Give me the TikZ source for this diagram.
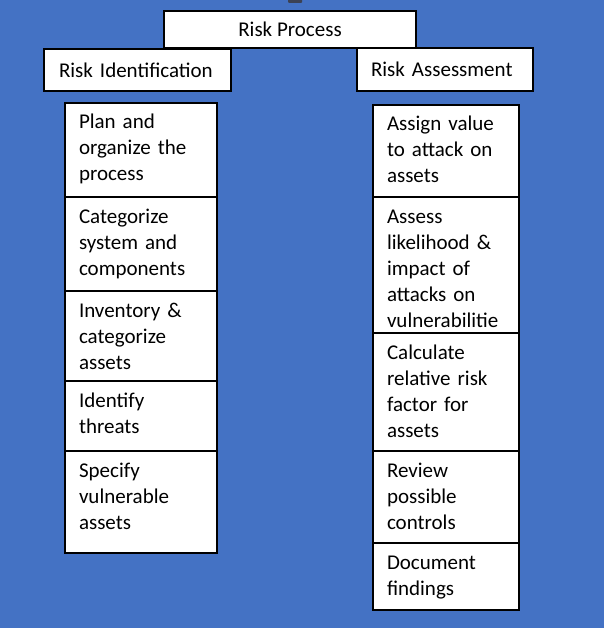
\documentclass[tikz,border=0pt]{standalone}
\usepackage{fontspec}
\setmainfont{Carlito}
\usetikzlibrary{positioning}

\definecolor{slideBlue}{RGB}{68,114,196}
\definecolor{smudgeGray}{RGB}{60,66,84}

\tikzset{
  boxline/.style={draw, line width=1.8pt, fill=white, outer sep=0pt},
  headbox/.style={boxline, anchor=north west, inner ysep=0pt,
    font=\fontsize{21}{26}\selectfont},
  stepbox/.style={boxline, inner xsep=14pt, inner ysep=0pt, align=left,
    text height=26pt, text depth=#1, font=\fontsize{21}{26}\selectfont},
  leftcol/.style={text width=124pt},
  rightcol/.style={text width=118pt}
}

\begin{document}
\begin{tikzpicture}[x=1pt, y=-1pt]
  \useasboundingbox (0,0) rectangle (604,628);
  \fill[slideBlue] (0,0) rectangle (604,628);
  \fill[smudgeGray, rounded corners=1pt] (288,-2) rectangle (302,3);
  % Headers
  \node[headbox, minimum width=252pt, minimum height=37pt] (process) at (164,11) {Risk Process};
  \node[headbox, inner xsep=15pt, text width=157pt, align=left, minimum height=42pt] (ident) at (44,49) {Risk Identification};
  \node[headbox, inner xsep=14pt, text width=148pt, align=left, minimum height=43pt] (assess) at (357,48) {Risk Assessment};
  % Identification steps
  \node[stepbox=68pt, leftcol, anchor=north west] (plan) at (65,103) {Plan and\\organize the\\process};
  \node[stepbox=68pt, leftcol, below=0pt of plan] (categorize) {Categorize\\system and\\components};
  \node[stepbox=64pt, leftcol, below=0pt of categorize] (inventory) {Inventory \&\\categorize\\assets};
  \node[stepbox=44pt, leftcol, below=0pt of inventory] (threats) {Identify\\threats};
  \node[stepbox=76pt, leftcol, below=0pt of threats] (vulnerable) {Specify\\vulnerable\\assets};
  % Assessment steps
  \node[stepbox=66pt, rightcol, anchor=north west] (value) at (373,105) {Assign value\\to attack on\\assets};
  \node[stepbox=110pt, rightcol, below=0pt of value] (likelihood) {Assess\\likelihood \&\\impact of\\attacks on\\vulnerabilitie};
  \node[stepbox=92pt, rightcol, below=0pt of likelihood] (riskfactor) {Calculate\\relative risk\\factor for\\assets};
  \node[stepbox=66pt, rightcol, below=0pt of riskfactor] (controls) {Review\\possible\\controls};
  \node[stepbox=41pt, rightcol, below=0pt of controls] (findings) {Document\\findings};
\end{tikzpicture}
\end{document}
